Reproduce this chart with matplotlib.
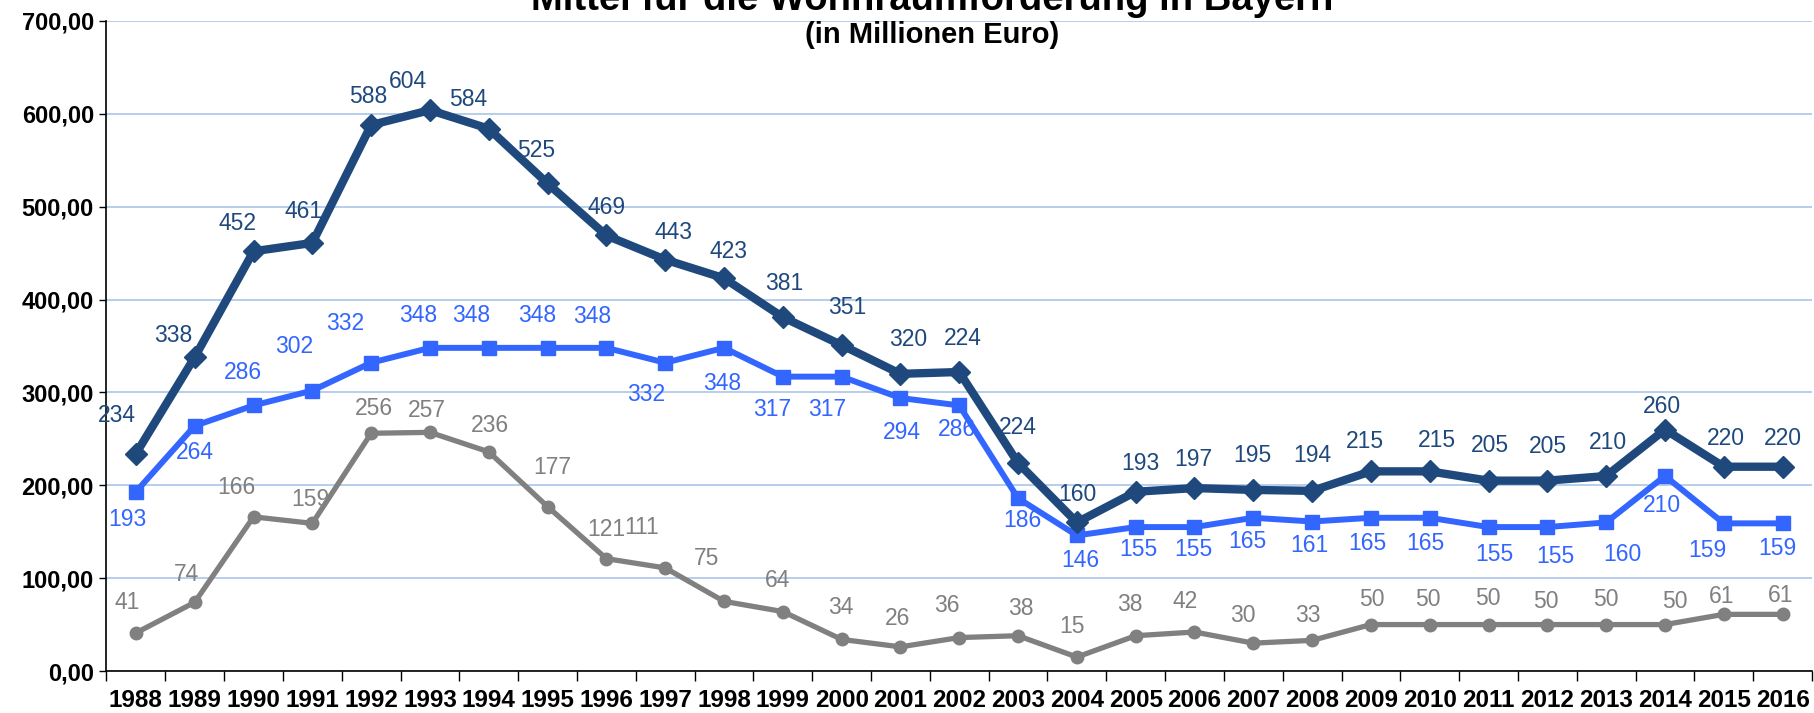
import matplotlib.pyplot as plt
from matplotlib.ticker import FuncFormatter, FixedLocator
import numpy as np

plt.rcParams['font.family'] = ['Liberation Sans', 'DejaVu Sans']

# Data
years = ['1988', '1989', '1990', '1991', '1992', '1993', '1994', '1995', '1996', '1997',
         '1998', '1999', '2000', '2001', '2002', '2003', '2004', '2005', '2006', '2007',
         '2008', '2009', '2010', '2011', '2012', '2013', '2014', '2015', '2016']

total = [234, 338, 452, 461, 588, 604, 584, 525, 469, 443, 423, 381, 351, 320, 322,
         224, 160, 193, 197, 195, 194, 215, 215, 205, 205, 210, 260, 220, 220]
# labels as printed in the chart (2002 is printed as 224)
total_labels = ['234', '338', '452', '461', '588', '604', '584', '525', '469', '443', '423',
                '381', '351', '320', '224', '224', '160', '193', '197', '195', '194', '215',
                '215', '205', '205', '210', '260', '220', '220']

blue = [193, 264, 286, 302, 332, 348, 348, 348, 348, 332, 348, 317, 317, 294, 286,
        186, 146, 155, 155, 165, 161, 165, 165, 155, 155, 160, 210, 159, 159]

gray = [41, 74, 166, 159, 256, 257, 236, 177, 121, 111, 75, 64, 34, 26, 36,
        38, 15, 38, 42, 30, 33, 50, 50, 50, 50, 50, 50, 61, 61]

# label offsets in pixels (dx, dy with y pointing down)
off_total = [(-19, -38), (-21, -22), (-16, -28), (-9, -31), (-3, -28), (-22, -29), (-21, -29),
             (-11, -33), (0, -28), (8, -27), (4, -27), (1, -34), (6, -38), (8, -34), (4, -33),
             (0, -35), (1, -28), (5, -28), (-1, -29), (-1, -34), (0, -35), (-6, -30), (7, -31),
             (1, -35), (1, -34), (2, -33), (-3, -23), (2, -28), (0, -28)]
off_blue = [(-9, 28), (0, 27), (-11, -33), (-18, -44), (-26, -39), (-12, -32), (-18, -32),
            (-10, -32), (-14, -31), (-19, 32), (-2, 36), (-11, 33), (-14, 33), (1, 35), (-2, 24),
            (4, 22), (3, 25), (3, 22), (-1, 22), (-6, 24), (-3, 24), (-4, 26), (-4, 26), (6, 27),
            (8, 29), (16, 32), (-3, 30), (-16, 27), (-5, 25)]
off_gray = [(-9, -30), (-8, -28), (-17, -29), (-2, -24), (3, -25), (-3, -22), (1, -26), (5, -39),
            (0, -29), (-24, -40), (-17, -43), (-5, -31), (-1, -32), (-3, -28), (-12, -32), (3, -27),
            (-5, -31), (-6, -31), (-9, -30), (-10, -28), (-4, -25), (1, -25), (-2, -25), (-1, -26),
            (-2, -23), (0, -25), (10, -23), (-2, -18), (-2, -19)]

c_total = '#1F497D'
c_blue = '#3366FF'
c_gray = '#808080'

fig = plt.figure(figsize=(18.15, 7.13), dpi=100)
ax = fig.add_axes([106.5 / 1815, 1 - 671 / 713, 1705.5 / 1815, 650 / 713])

x = np.arange(len(years))

ax.plot(x, gray, color=c_gray, lw=3.8, marker='o', ms=9, zorder=3)
ax.plot(x, blue, color=c_blue, lw=4.3, marker='s', ms=10, zorder=4)
ax.plot(x, total, color=c_total, lw=6, marker='D', ms=11, zorder=5)

for vals, labs, offs, col in [(gray, [str(v) for v in gray], off_gray, c_gray),
                              (blue, [str(v) for v in blue], off_blue, c_blue),
                              (total, total_labels, off_total, c_total)]:
    for i, (v, t, o) in enumerate(zip(vals, labs, offs)):
        ax.annotate(t, (x[i], v), xytext=(o[0], -o[1]), textcoords='offset pixels',
                    ha='center', va='center', fontsize=16.5, color=col, zorder=6)

ax.set_xlim(-0.5, len(years) - 0.5)
ax.set_ylim(0, 700)
ax.set_yticks(np.arange(0, 701, 100))
ax.yaxis.set_major_formatter(FuncFormatter(lambda v, p: f'{v:.2f}'.replace('.', ',')))
ax.yaxis.grid(True, color='#A9C6E8', lw=1.2, zorder=0)
ax.set_axisbelow(True)

ax.set_xticks(x)
ax.set_xticklabels(years)
ax.xaxis.set_minor_locator(FixedLocator(np.arange(-0.5, len(years), 1)))
ax.tick_params(axis='x', which='major', length=0, pad=13, labelsize=17.5)
ax.tick_params(axis='x', which='minor', length=7, width=1, direction='out')
ax.tick_params(axis='y', length=5, width=1, direction='out', labelsize=17, pad=4)
for lab in ax.get_xticklabels() + ax.get_yticklabels():
    lab.set_fontweight('bold')

for s in ['top', 'right']:
    ax.spines[s].set_visible(False)
ax.spines['left'].set_linewidth(1.2)
ax.spines['bottom'].set_linewidth(1.2)

fig.text(932 / 1815, 1 - 10 / 713, 'Mittel für die Wohnraumförderung in Bayern',
         ha='center', va='baseline', fontsize=27.5, fontweight='bold')
fig.text(932 / 1815, 1 - 43 / 713, '(in Millionen Euro)',
         ha='center', va='baseline', fontsize=21, fontweight='bold')

fig.savefig('out.png', dpi=100)
